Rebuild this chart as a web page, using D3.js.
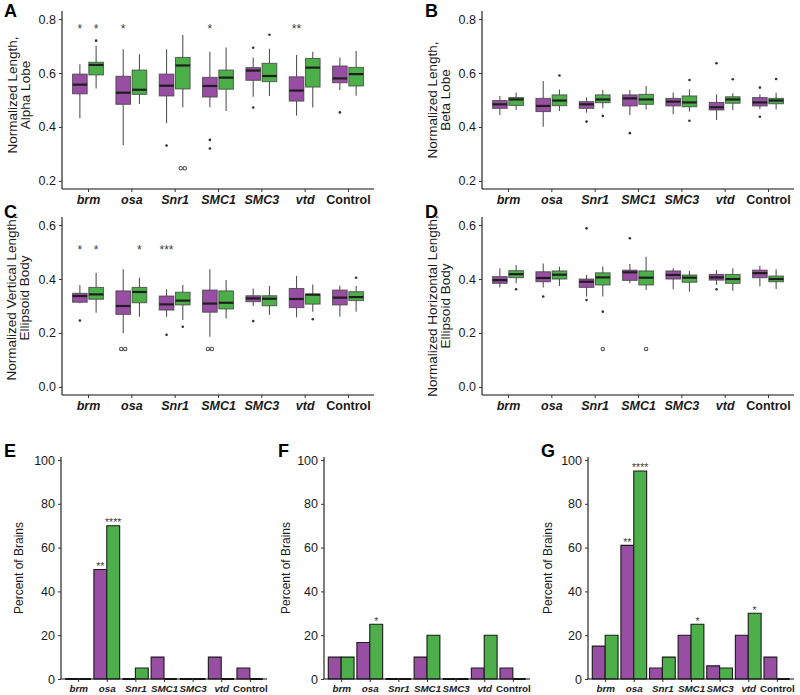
<!DOCTYPE html>
<html><head><meta charset="utf-8">
<script src="https://cdn.jsdelivr.net/npm/d3@7"></script>
<style>body{margin:0;background:#fff}svg{display:block;font-family:"Liberation Sans",Arial,sans-serif}</style>
</head><body><svg id="c" width="800" height="695"></svg>
<script>
// ---------- DATA ----------
const categories = ["brm","osa","Snr1","SMC1","SMC3","vtd","Control"];
const seriesNames = ["Group 1","Group 2"];
const seriesColors = ["#984EA3","#4DAF4A"];

// box stats per category: [lower whisker, Q1, median, Q3, upper whisker]
const alphaP = [[.432,.523,.557,.596,.633],[.333,.484,.527,.588,.688],[.414,.515,.553,.596,.688],[.473,.511,.552,.584,.679],[.512,.573,.609,.620,.658],[.442,.496,.535,.586,.667],[.537,.564,.580,.626,.658]];
const alphaG = [[.543,.593,.630,.640,.701],[.485,.521,.538,.611,.670],[.473,.541,.628,.658,.741],[.459,.540,.583,.611,.695],[.515,.568,.589,.636,.690],[.472,.548,.620,.654,.679],[.516,.552,.596,.621,.682]];
const alphaPOut = [[],[],[.331],[.352,.320],[.694,.472],[],[.454]];
const alphaGOut = [[.72],[],[.247,.247],[],[.742],[],[]];
const alphaSigP = ["*","*","","*","","**",""];
const alphaSigG = ["*","","","","","",""];

const betaP = [[.444,.469,.484,.498,.515],[.401,.457,.478,.506,.570],[.453,.469,.484,.494,.510],[.444,.478,.506,.519,.537],[.447,.478,.494,.506,.528],[.426,.463,.473,.491,.521],[.467,.478,.491,.509,.521]];
const betaG = [[.463,.480,.502,.509,.528],[.459,.479,.498,.519,.539],[.469,.490,.502,.519,.537],[.465,.484,.502,.521,.552],[.457,.475,.491,.515,.539],[.463,.488,.502,.512,.525],[.465,.486,.498,.506,.527]];
const betaPOut = [[],[],[.420],[.377],[],[.636],[.546,.438]];
const betaGOut = [[],[.591],[.441],[],[.574,.423],[.577],[.578]];
const betaSigP = ["","","","","","",""];
const betaSigG = ["","","","","","",""];

const vertP = [[.310,.314,.337,.347,.378],[.199,.269,.300,.356,.436],[.260,.285,.306,.337,.362],[.186,.277,.309,.359,.436],[.300,.316,.328,.338,.365],[.258,.294,.326,.365,.412],[.260,.304,.331,.359,.375]];
const vertG = [[.275,.325,.343,.369,.423],[.260,.312,.352,.369,.405],[.248,.304,.320,.351,.378],[.254,.289,.312,.356,.396],[.267,.301,.327,.338,.374],[.279,.307,.342,.344,.380],[.279,.320,.333,.353,.374]];
const vertPOut = [[.246],[.141,.141],[.193],[.141,.141],[.244],[],[]];
const vertGOut = [[],[],[.223],[],[],[.251],[.405]];
const vertSigP = ["*","","***","","","",""];
const vertSigG = ["*","*","","","","",""];

const horizP = [[.369,.384,.396,.409,.440],[.369,.390,.404,.427,.458],[.335,.369,.390,.400,.415],[.384,.395,.425,.433,.456],[.362,.400,.415,.430,.440],[.378,.396,.406,.417,.433],[.372,.405,.422,.433,.449]];
const horizG = [[.384,.405,.418,.431,.452],[.374,.400,.416,.430,.446],[.335,.378,.406,.423,.446],[.359,.378,.405,.430,.483],[.353,.388,.405,.415,.430],[.357,.384,.400,.417,.440],[.363,.390,.400,.411,.436]];
const horizPOut = [[],[.335],[.588,.322],[.551],[],[.362],[]];
const horizGOut = [[.362],[],[.279,.141],[.141],[],[],[]];
const horizSigP = ["","","","","","",""];
const horizSigG = ["","","","","","",""];

// percent of brains
const pctE_P = [0,50,0,10,0,10,5];
const pctE_G = [0,70,5,0,0,0,0];
const sigE_P = ["","**","","","","",""];
const sigE_G = ["","****","","","","",""];
const pctF_P = [10,16.7,0,10,0,5,5];
const pctF_G = [10,25,0,20,0,20,0];
const sigF_P = ["","","","","","",""];
const sigF_G = ["","*","","","","",""];
const pctG_P = [15,61,5,20,6,20,10];
const pctG_G = [20,95,10,25,5,30,0];
const sigG_P = ["","**","","","","",""];
const sigG_G = ["","****","","*","","*",""];

const boxTicks = [[0.2,0.4,0.6,0.8],[0.0,0.2,0.4,0.6]];
const pctTicks = [0,20,40,60,80,100];

// ---------- DRAW ----------
const svg = d3.select("#c");

function styleXLabels(g, size){
  g.selectAll(".tick text")
   .attr("font-size", size).attr("font-weight","bold").attr("fill","#1a1a1a")
   .attr("font-style", d => d === "Control" ? "normal" : "italic");
}

function boxPanel(o){
  const x = d3.scalePoint().domain(categories).range([o.x0, o.x1]).padding(0.6);
  const step = x.step();
  const y = d3.scaleLinear().domain(o.dom).range([o.yb, o.yt]);
  const g = svg.append("g");
  const bw = step*0.3375, off = step*0.1875;
  const sets = [[o.P,o.POut,o.sigP],[o.G,o.GOut,o.sigG]];
  sets.forEach(([stats,outs,sigs],si)=>{
    categories.forEach((c,i)=>{
      const cx = x(c) + (si===0?-off:off);
      const s = stats[i];
      g.append("line").attr("x1",cx).attr("x2",cx).attr("y1",y(s[0])).attr("y2",y(s[1])).attr("stroke","#555").attr("stroke-width",1.1);
      g.append("line").attr("x1",cx).attr("x2",cx).attr("y1",y(s[3])).attr("y2",y(s[4])).attr("stroke","#555").attr("stroke-width",1.1);
      g.append("rect").attr("x",cx-bw/2).attr("width",bw).attr("y",y(s[3])).attr("height",y(s[1])-y(s[3]))
        .attr("fill",seriesColors[si]).attr("stroke","#3a3a3a").attr("stroke-opacity",0.75).attr("stroke-width",1);
      g.append("line").attr("x1",cx-bw/2).attr("x2",cx+bw/2).attr("y1",y(s[2])).attr("y2",y(s[2])).attr("stroke","#1e1e1e").attr("stroke-width",2.2);
      const vals = outs[i];
      vals.forEach((v,k)=>{
        const dup = vals.filter(w=>w===v).length>1;
        const dx = dup ? (vals.indexOf(v)===k ? -2 : 2) : 0;
        if (dup || v < o.openBelow) {
          g.append("circle").attr("cx",cx+dx).attr("cy",y(v)).attr("r",1.7).attr("fill","none").attr("stroke","#555").attr("stroke-width",1.1);
        } else {
          g.append("circle").attr("cx",cx).attr("cy",y(v)).attr("r",1.3).attr("fill","#333");
        }
      });
      if (sigs[i]) g.append("text").attr("x",cx).attr("y",y(o.sigLevel)+7).attr("text-anchor","middle")
        .attr("font-size",12).attr("fill","#3a3a3a").text(sigs[i]);
    });
  });
  // axes
  const ya = g.append("g").attr("transform",`translate(${o.x0},0)`)
    .call(d3.axisLeft(y).tickValues(o.ticks).tickFormat(d3.format(".1f")).tickSize(3).tickPadding(3));
  ya.select(".domain").attr("d",`M0,${o.yt}V${o.yb}`);
  ya.selectAll("text").attr("font-size",12.5).attr("fill","#1a1a1a");
  ya.selectAll(".tick line").attr("stroke","#333");
  const xa = g.append("g").attr("transform",`translate(0,${o.yb})`)
    .call(d3.axisBottom(x).tickSize(3).tickPadding(3));
  xa.select(".domain").attr("d",`M${o.x0},0H${o.x1}`);
  styleXLabels(xa, 12.5);
  xa.selectAll(".tick line").attr("stroke","#333");
  [ya,xa].forEach(a=>a.select(".domain").attr("stroke","#111").attr("stroke-width",1.1));
  // title
  const t = g.append("text").attr("transform",`translate(${o.tx},${o.ty}) rotate(-90)`).attr("text-anchor","middle")
    .attr("font-size",13.5).attr("fill","#1a1a1a");
  t.append("tspan").attr("x",0).attr("y",0).attr("dominant-baseline","central").text(o.t1);
  t.append("tspan").attr("x",0).attr("y",13.5).attr("dominant-baseline","central").text(o.t2);
  svg.append("text").attr("x",o.lx).attr("y",o.ly).attr("font-size",18).attr("font-weight","bold").text(o.letter);
}

function barPanel(o){
  const x = d3.scalePoint().domain(categories).range([o.x0, o.x1]).padding(0.6);
  const step = x.step();
  const y = d3.scaleLinear().domain([0,100]).range([679,460]);
  const g = svg.append("g");
  const bw = step*0.45;
  [[o.P,o.sigP],[o.G,o.sigG]].forEach(([vals,sigs],si)=>{
    categories.forEach((c,i)=>{
      const xl = x(c) + (si===0 ? -bw : 0);
      const yt = y(vals[i]);
      g.append("path").attr("d",`M${xl},${y(0)}V${yt}H${xl+bw}V${y(0)}Z`)
        .attr("fill",seriesColors[si]).attr("stroke","#1a1a1a").attr("stroke-width",vals[i]===0?1.8:1.1);
      if (sigs[i]) g.append("text").attr("x",xl+bw/2).attr("y",yt+0.5).attr("text-anchor","middle")
        .attr("font-size",10.5).attr("fill","#444").text(sigs[i]);
    });
  });
  const ya = g.append("g").attr("transform",`translate(${o.x0},0)`)
    .call(d3.axisLeft(y).tickValues(pctTicks).tickSize(3).tickPadding(3));
  ya.select(".domain").attr("d",`M0,457V679`);
  ya.selectAll("text").attr("font-size",12.5).attr("fill","#1a1a1a");
  const xa = g.append("g").attr("transform",`translate(0,679)`)
    .call(d3.axisBottom(x).tickSize(3).tickPadding(3));
  xa.select(".domain").attr("d",`M${o.x0},0H${o.x1}`);
  styleXLabels(xa, 9.8);
  [ya,xa].forEach(a=>{a.select(".domain").attr("stroke","#111").attr("stroke-width",1.1); a.selectAll(".tick line").attr("stroke","#333");});
  g.append("text").attr("transform",`translate(${o.tx},568) rotate(-90)`).attr("text-anchor","middle")
    .attr("dominant-baseline","central").attr("font-size",12).attr("fill","#1a1a1a").text("Percent of Brains");
  svg.append("text").attr("x",o.lx).attr("y",457).attr("font-size",18).attr("font-weight","bold").text(o.letter);
}

boxPanel({letter:"A",lx:4,ly:17,x0:62,x1:374,yt:11,yb:189,dom:[0.17,0.83],ticks:boxTicks[0],P:alphaP,G:alphaG,POut:alphaPOut,GOut:alphaGOut,sigP:alphaSigP,sigG:alphaSigG,sigLevel:0.775,openBelow:0,tx:12,ty:95,t1:"Normalized Length,",t2:"Alpha Lobe"});
boxPanel({letter:"B",lx:425,ly:17,x0:482,x1:794,yt:11,yb:189,dom:[0.17,0.83],ticks:boxTicks[0],P:betaP,G:betaG,POut:betaPOut,GOut:betaGOut,sigP:betaSigP,sigG:betaSigG,sigLevel:0.775,openBelow:0,tx:432,ty:100,t1:"Normalized Length,",t2:"Beta Lobe"});
boxPanel({letter:"C",lx:4,ly:218,x0:62,x1:374,yt:217,yb:395,dom:[-0.03,0.63],ticks:boxTicks[1],P:vertP,G:vertG,POut:vertPOut,GOut:vertGOut,sigP:vertSigP,sigG:vertSigG,sigLevel:0.517,openBelow:0.16,tx:11,ty:298,t1:"Normalized Vertical Length,",t2:"Ellipsoid Body"});
boxPanel({letter:"D",lx:425,ly:218,x0:482,x1:794,yt:217,yb:395,dom:[-0.03,0.63],ticks:boxTicks[1],P:horizP,G:horizG,POut:horizPOut,GOut:horizGOut,sigP:horizSigP,sigG:horizSigG,sigLevel:0.517,openBelow:0.16,tx:432,ty:306,t1:"Normalized Horizontal Length,",t2:"Ellipsoid Body"});
barPanel({letter:"E",lx:4,x0:61,x1:267,P:pctE_P,G:pctE_G,sigP:sigE_P,sigG:sigE_G,tx:19});
barPanel({letter:"F",lx:278,x0:324,x1:530,P:pctF_P,G:pctF_G,sigP:sigF_P,sigG:sigF_G,tx:286});
barPanel({letter:"G",lx:541,x0:588,x1:794,P:pctG_P,G:pctG_G,sigP:sigG_P,sigG:sigG_G,tx:548});
</script></body></html>
